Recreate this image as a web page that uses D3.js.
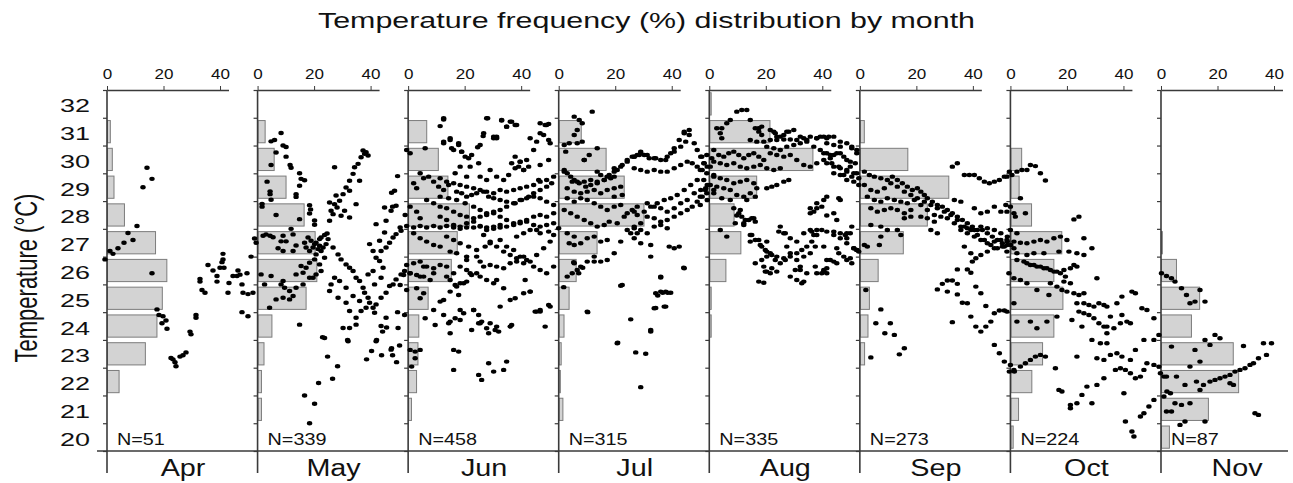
<!DOCTYPE html>
<html><head><meta charset="utf-8">
<script src="https://cdn.jsdelivr.net/npm/d3@7"></script>
<style>body{margin:0;background:#fff}</style>
</head><body><svg id="c" width="1293" height="483"></svg>
<script>
const months = ["Apr","May","Jun","Jul","Aug","Sep","Oct","Nov"];
const counts = [51,339,458,315,335,273,224,87];
const bins = [20,21,22,23,24,25,26,27,28,29,30,31,32];
const xTicks = [0,20,40];
const titleText = "Temperature frequency (%) distribution by month";
const yTitle = "Temperature (°C)";

const freqApr = [0,0,4.1,13.4,17.5,19.4,21,17,6,2.3,1.7,1,0];
const freqMay = [0,1.2,1.2,2.1,4.9,17,20.8,20.2,16.3,9.9,5.7,2.5,0];
const freqJun = [0,1,2.8,3.3,3.6,6.9,15.1,17.2,21.5,13.9,10.5,6.4,0];
const freqJul = [0,1.3,0.4,0.7,1.7,3.5,6,13.4,30,23,16.6,7.8,0];
const freqAug = [0,0,0,0,0.5,0.5,5.7,11,8.6,16.6,36.5,21.3,0.5];
const freqSep = [0,0,0,1.5,2.7,3.2,6.3,15.2,23.7,31.3,16.8,1.4,0];
const freqOct = [0.8,2.7,7.4,11.2,15.2,18.4,15.2,18,7.3,2.9,3.8,0,0];
const freqNov = [2.8,16.6,27.3,25.4,10.6,13.5,5.3,0.3,0,0,0,0,0];

// [day within month, temperature]
const dotsApr = [[-0.4,26.4],[0.6,26.7],[1.2,26.6],[2.2,26.8],[3.4,27.0],[4.2,27.35],[5.2,27.1],[6,27.6],[7.2,29.0],[8,29.7],[9,29.3],[9,25.9],
[10,24.6],[10.4,24.4],[11.2,24.35],[11,24.1],[11.8,24.2],[12,23.9],[12.8,22.85],[13.2,22.8],[13.6,22.7],[13.8,22.55],[14.6,22.9],[15.2,22.95],[15.8,23.05],
[16.6,23.8],[16.8,23.7],[17.8,24.4],[17.8,24.3],[18.6,25.7],[18.6,25.6],[19,25.3],[19.6,25.2],
[20.2,26.2],[21.2,26.0],[22,25.8],[22.6,26.1],[23,26.3],[22,25.6],[23.4,26.1],[23.2,26.6],[23.2,26.4],
[24.4,25.55],[24.2,25.2],[25.2,25.8],[26.2,26.0],[26,25.8],[27,25.5],[26.6,25.85],[28,25.9],[27.2,25.2],[28.2,25.15],[29.2,25.2],[27,24.5],[28.2,24.35]];
const dotsMay = [[4.7,30.95],[3.4,30.7],[2.7,30.65],[5.1,30.5],[5.7,30.45],[3.7,30.25],[5.7,30.1],[6.5,29.8],[6.7,29.7],[2.7,29.8],[1.9,29.2],[8.4,29.5],[8.7,29.3],[9.4,29.25],[8.4,29.05],[7.7,28.75],[7.7,28.65],[2.5,28.75],[2.5,28.85],[2.7,28.55],[0.9,28.4],[0.9,28.3],[3.7,28.0],[8.4,27.85],[10.4,28.35],[10.6,28.2],[10.4,28.05],[11.4,27.8],[11.4,27.65],[6.7,27.5],[7.1,27.3],[1.1,27.25],[1.7,27.3],[2.5,27.25],[3.1,27.2],[5.1,27.25],[4.7,27.05],[5.7,27.05],[4.1,26.8],[5.1,26.7],[7.1,26.7],[7.7,26.9],[-0.3,27.0],[-0.6,27.15],[-1.3,26.5],
[10.1,27.19],[10.7,27.07],[11.4,26.95],[11.7,27.0],[12.4,27.13],[12.7,27.19],[13.4,27.28],[13.9,27.33],[12.4,26.89],[13.1,26.83],[12.1,26.77],[12.7,26.7],[13.7,26.95],[14.1,27.13],[11.1,26.83],[10.4,26.7],[9.4,27.0],[9.7,26.83],[11.7,26.58],[13.4,26.46],[11.4,26.4],[10.4,26.28],[12.4,26.22],[9.7,26.1],[8.7,26.16],[9.1,25.92],[7.7,25.86],[12.7,25.98],[11.7,25.86],[11.1,25.74],[10.4,25.74],[9.1,25.5],[7.7,25.38],[6.4,25.26],[5.4,25.38],[4.7,25.5],[5.1,25.62],[7.1,25.08],[6.4,24.96],[5.1,25.02],[3.7,24.96],[2.4,24.66],[1.4,25.5],[2.7,25.8],[0.7,25.86],
[14.4,27.79],[15.1,28.03],[15.9,28.27],[16.4,28.51],[17.1,28.75],[17.7,28.99],[18.4,29.23],[19.1,29.48],[19.4,29.72],[20.1,29.84],[20.7,30.08],[21.4,30.2],[21.7,30.26],[21.1,30.32],[22.1,30.14],[15.4,28.39],[14.7,28.15],[16.7,27.97],[17.4,28.15],[18.4,27.91],[19.7,28.39],[20.4,29.23],[15.4,29.72],[14.4,28.45],[15.7,28.7],[18.4,28.87],
[15.1,26.83],[16.1,26.58],[16.7,26.4],[17.7,26.22],[18.4,26.1],[19.1,25.98],[19.7,25.74],[20.4,25.62],[21.1,25.38],[21.4,25.2],[22.1,25.02],[22.4,24.84],[23.1,24.66],[21.7,24.66],[20.4,24.9],[19.1,25.08],[17.7,25.38],[16.4,25.62],[15.4,25.74],[14.7,25.5],[14.4,25.26],[16.1,25.02],[17.7,24.84],[18.4,24.54],[19.7,24.3],[20.7,24.54],[23.4,24.48],[23.7,24.78],[24.7,25.02],[25.7,25.2],[26.4,25.44],[27.1,25.5],[27.7,25.68],[28.7,25.86],[29.4,25.98],[25.1,26.1],[24.4,26.34],[23.7,26.46],[24.7,26.7],[25.7,26.83],[26.4,27.0],[27.1,27.19],[27.7,27.31],[28.7,27.43],[23.1,26.7],[22.4,26.95],[24.4,27.07],[25.4,27.37],[23.7,27.67],[25.7,27.79],[26.7,28.15],[27.7,28.33],[27.4,28.87],[25.4,28.27],[23.1,25.98],[22.1,25.86],[24.7,25.74],[23.4,25.5],[26.8,28.8],[28,29.4],[27,28.3],
[18.4,23.93],[19.7,24.05],[17.1,23.93],[25.7,24.3],[24.7,24.0],[28.1,23.93],[8.4,24.05],[13.4,23.57],[18.1,23.45],[23.7,23.45],[26.7,23.15],
[13,23.6],[14,22.9],[16,22.55],[15,22.1],[12.2,21.95],[9.4,21.5],[11.4,21.2],[10.4,20.5],[18,23.5],[21.8,22.8],[23.8,23.5],[22.8,23.1],[24.8,22.95],[26.8,23.2],[27,22.95],[27.8,22.7],[28.4,23.3],[25.8,23.95],[25,23.8],[28,24.5],[29.4,24.4]];
const dotsJun = [[7.1,31.44],[6.4,31.2],[15.9,31.48],[18.7,31.4],[19.7,31.18],[20.7,31.36],[21.7,31.24],[27.4,31.24],[28.1,31.28],[15.0,30.84],[17.1,30.76],[17.7,30.82],[7.1,30.64],[8.4,30.76],[8.7,30.4],[9.1,30.34],[10.1,30.52],[10.7,30.28],[11.4,30.1],[13.9,30.44],[3.4,30.4],[0.4,30.22],[-0.3,30.34],[24.4,30.76],[25.7,30.64],[26.4,30.94],[25.1,30.34],[28.1,30.7],
[21.4,30.1],[22.4,29.92],[22.1,29.74],[23.1,29.62],[24.1,29.74],[23.7,29.98],[12.1,30.04],[12.4,29.74],[14.1,29.86],[10.4,29.74],[9.4,29.5],[11.7,29.38],[16.4,29.62],[17.7,29.38],[19.1,29.26],[20.1,29.44],[14.4,29.38],[15.7,29.26],
[2.4,29.5],[3.1,29.32],[4.1,29.38],[5.1,29.2],[6.1,29.02],[7.1,28.9],[8.1,29.08],[1.1,29.14],[1.7,28.96],
[9.7,28.84],[10.7,28.78],[11.7,28.66],[12.7,28.72],[13.7,28.78],[15.1,28.84],[16.1,28.66],[17.1,28.6],[18.4,28.54],[19.7,28.48],[21.4,28.42],[22.7,28.54],[24.1,28.66],[25.1,28.78],[26.4,28.9],[27.7,29.02],[28.7,29.14],[26.1,29.26],
[3.7,28.54],[5.1,28.42],[6.4,28.3],[7.7,28.24],[9.1,28.12],[10.4,28.0],[11.7,27.94],[13.1,27.88],[14.4,27.94],[15.7,28.0],[0.4,28.3],[1.7,28.12],[-0.6,28.0],[2.4,27.88],
[17.1,28.06],[18.4,27.94],[19.7,27.82],[21.1,27.7],[22.4,27.76],[23.7,27.82],[25.1,27.94],[26.4,28.0],[27.7,27.94],[29.1,28.06],
[-1.6,27.55],[-0.3,27.6],[1.1,27.55],[2.4,27.6],[3.7,27.55],[5.1,27.6],[6.4,27.55],[7.7,27.6],[9.1,27.55],[10.4,27.5],[11.7,27.55],[13.1,27.55],[14.4,27.6],[15.7,27.55],[17.1,27.5],[18.4,27.55],
[1.1,27.34],[2.4,27.16],[3.7,27.04],[5.1,26.92],[6.4,26.86],[8.4,26.68],[9.7,26.62],[11.7,26.5],[13.7,26.5],
[15.1,27.28],[16.4,27.04],[17.7,26.86],[19.1,26.68],[20.4,26.56],[21.7,26.44],[23.1,26.5],[24.4,26.32],[25.7,26.56],[27.1,26.8],[28.4,27.04],[26.4,27.34],[28.1,27.4],[29.1,27.28],
[10.4,26.14],[11.7,26.02],[9.1,25.9],[7.7,25.78],[5.1,25.9],[3.1,26.14],[2.4,25.78],[0.4,25.9],
[-0.3,26.2],[1.1,26.26],[2.4,26.32],[3.7,26.14],[5.1,26.08],[6.4,26.2],[7.7,26.14],[-0.9,25.84],[0.4,25.9],[1.7,25.84],[3.1,25.78],[4.4,25.66],[-1.6,25.48],[-0.3,25.3],[1.7,25.36],[3.1,25.18],[2.4,25.0],
[8.4,25.66],[9.4,25.48],[10.4,25.54],[11.7,25.6],[12.7,25.84],[13.7,25.9],[15.1,26.14],[16.4,26.2],[17.7,26.14],[19.1,26.08],[20.4,26.26],[21.7,26.32],[23.1,26.26],[11.7,26.38],[14.4,26.32],
[17.7,25.66],[19.1,25.36],[17.1,25.54],[21.4,25.0],[23.4,25.66],[24.4,25.24],[25.4,24.52],[26.4,24.52],[28.1,24.76],[27.4,23.98],
[10.1,25.12],[6.4,24.88],[5.1,24.58],[3.4,24.28],[5.4,24.04],[7.1,24.4],[8.4,24.16],[9.4,24.28],[10.4,24.22],[11.1,24.46],[13.1,24.58],[14.1,24.4],[14.7,24.16],[14.1,24.1],[16.4,24.1],[17.7,23.98],[18.1,23.8],[16.1,23.74],[12.7,23.86],[8.4,23.74],[20.7,24.04],
[0.4,23.14],[1.4,23.08],[2.4,23.14],[1.4,22.84],[0.7,22.54],[9.1,23.14],[10.1,23.08],[9.1,22.42],[16.1,22.66],[17.1,22.36],[19.1,22.42],[19.7,22.72],[14.1,22.24],[14.7,22.06],
[7.1,31.48],[15.7,31.48],[18.7,31.42],[20.4,31.36],[21.4,31.24],[19.7,31.18],[7.1,30.58],[8.4,30.7],[10.1,30.58],[10.7,30.28],[12.7,30.16],[14.4,30.52],[17.1,30.82],[17.7,30.76],[15.1,30.94],[20.7,29.86],[22.4,29.92],[21.4,29.68],[23.1,29.62],[26.4,29.8],[28.1,29.98],[28.4,30.58],[27.1,30.88],[26.4,31.3],[27.7,31.24],
[6.4,29.32],[7.7,29.2],[9.1,29.14],[10.4,29.08],[11.7,29.02],[13.1,28.96],[14.4,28.9],[15.7,28.84],[17.1,28.78],[18.4,28.9],[19.7,28.84],[21.1,28.9],[22.4,28.96],[23.7,29.02],[25.1,29.08],[26.4,29.2],[27.7,29.26],[29.1,29.38],
[6.4,28.66],[8.1,28.6],[9.7,28.54],[11.4,28.42],[13.1,28.3],[14.4,28.18],[15.7,28.06],[17.1,28.12],[18.4,28.18],[19.7,28.3],[21.1,28.42],[22.4,28.54],[23.7,28.6],[25.1,28.66],[26.4,28.6],[27.7,28.48],[29.1,28.36],
[6.4,27.94],[7.7,27.82],[9.1,27.64],[10.4,27.58],[11.7,27.7],[13.1,27.76],[14.4,27.58],[15.7,27.46],[17.1,27.58],[18.4,27.64],[19.7,27.58],[21.1,27.64],[22.4,27.7],[23.7,27.76],[25.1,27.64],[26.4,27.58],[27.7,27.64],[29.1,27.7],[30.1,27.52],
[7.7,27.22],[9.1,27.1],[10.4,26.98],[12.1,26.86],[13.7,26.74],[15.4,26.86],[16.4,26.98],[18.4,27.1],[19.7,26.86],[21.1,26.74],[22.4,26.5],[23.7,26.38],[25.1,26.14],[26.4,26.02],[27.7,25.9],[29.1,26.14],[21.7,27.22],[23.1,27.34],[24.4,27.46],[25.7,27.46],
[12.4,25.9],[14.4,25.78],[15.7,25.66],[11.1,25.54],[9.7,25.42],[8.4,25.24],[7.1,24.94],[8.1,24.1],[10.4,24.58],[13.1,24.58],[14.4,24.1],[15.7,23.92],[17.4,23.86],[18.4,24.7],[20.4,24.94],[23.1,25.18],[24.4,25.24],[26.4,24.58],[25.7,24.52],[28.4,24.7],[20.4,23.98]];
const dotsJul = [[6.7,31.72],[3.1,31.54],[4.1,31.42],[4.7,31.3],[3.7,31.06],[3.1,30.88],[2.1,30.58],[1.1,30.52],[7.7,30.4],[6.1,30.16],[5.1,29.98],
[1.1,29.62],[1.7,29.5],[2.4,29.38],[3.1,29.26],[4.1,29.14],[5.4,29.02],[6.4,29.08],[7.7,29.14],[9.1,29.26],[10.1,29.44],[11.1,29.56],[12.4,29.74],[13.7,29.92],[15.1,30.1],[16.4,30.28],[17.7,30.16],[19.1,30.04],[20.4,29.98],[21.7,30.1],[23.1,30.28],[24.4,30.46],[25.4,30.64],[26.1,30.88],[25.1,31.0],
[4.7,30.64],[3.7,30.58],[1.4,30.28],[5.1,29.98],
[11.1,29.68],[11.7,29.62],[12.7,29.8],[13.7,29.98],[14.7,30.1],[15.7,30.16],[16.4,30.22],
[1.1,29.56],[2.7,29.2],[3.7,29.2],[5.1,29.2],[6.4,29.26],[7.7,29.2],[9.1,29.26],[10.4,29.32],[11.1,29.38],[7.7,29.56],[8.4,29.44],[9.7,29.38],
[1.7,28.96],[3.1,28.84],[4.4,28.78],[5.7,28.84],[7.1,28.9],[8.4,28.78],[9.7,28.9],[11.1,28.96],[12.4,29.02],[1.7,28.6],[3.1,28.48],[4.4,28.6],[5.7,28.54],[7.1,28.42],[8.4,28.3],[9.7,28.18],[11.1,28.3],[12.4,28.36],[11.1,28.66],[12.7,28.72],
[1.1,28.18],[2.4,28.06],[3.7,27.94],[5.1,27.82],[6.4,27.7],[7.7,27.58],[9.1,27.64],[10.1,27.76],[11.7,27.7],[13.1,27.94],[13.7,28.06],[15.1,28.12],
[1.7,27.34],[3.1,27.22],[2.1,26.98],[3.1,26.92],[4.4,26.98],[5.7,27.16],[7.1,27.22],[8.4,27.04],[9.7,27.1],[12.4,27.04],[15.1,27.16],[15.7,27.34],[13.7,27.46],
[3.1,26.26],[4.4,26.14],[5.7,26.32],[7.1,26.32],[8.4,26.32],[9.7,26.38],[11.1,26.62],[7.1,26.5],[2.7,25.9],[3.7,26.02],[1.7,25.78],
[12.7,25.48],[5.7,24.52],[14.4,24.24],[11.7,23.38],
[12.4,25.45],[20.4,25.75],[19.8,25.1],[20.8,25.2],[21.8,25.2],[22.4,25.2],[19.4,24.65],[21.4,24.7],[18.4,23.8],[11.8,23.4],[15.4,23.05],[17.4,23.0],[16.4,21.8],[25,26.1],[5.8,24.5],[1,25.4],[3,26.3],[4,25.9],[4.8,26.1],
[26.1,31.06],[25.1,30.94],[24.1,30.7],[23.1,30.4],[22.4,30.22],[21.4,29.98],[19.4,30.04],[18.1,30.04],[17.1,30.16],[16.1,30.16],[15.1,30.1],
[27.1,30.58],[27.7,30.34],[28.4,30.1],[29.1,29.86],[29.7,29.74],[28.7,29.62],[27.7,29.74],[26.7,29.86],[25.7,29.92],[24.4,29.8],[23.1,29.68],[21.7,29.56],[20.4,29.56],[19.1,29.62],[17.7,29.56],[16.4,29.62],[15.1,29.68],
[27.7,29.26],[26.4,29.08],[25.1,28.9],[23.7,28.72],[22.4,28.6],[21.1,28.54],[19.7,28.42],[18.4,28.3],[17.1,28.12],[15.7,28.0],
[29.4,28.96],[28.7,28.66],[27.7,28.48],[26.7,28.3],[25.7,28.18],[24.4,28.06],[23.1,27.94],[21.7,27.82],[20.4,27.76],[19.1,27.88],[17.7,27.94],[29.7,28.54],
[15.7,28.3],[14.7,28.18],[16.4,27.7],[15.1,27.52],[14.4,27.34],
[22.1,26.86],[23.1,26.8],[24.1,26.86],[25.1,26.08],[20.4,25.78],[19.4,25.18],[20.4,25.24],[21.4,25.24],[19.1,24.64],[21.1,24.7],[18.4,23.86],[16.4,26.98],[18.4,26.92],
[17.7,28.42],[19.1,28.3],[20.4,28.24],[21.7,28.12],[23.1,28.24],[24.4,28.42],[25.7,28.54],[27.1,28.78],[28.4,28.9],[29.7,29.08],
[15.1,27.58],[16.4,27.46],[17.7,27.34],[19.1,27.58],[20.4,27.64],[21.7,27.52],[18.4,26.5]];
const dotsAug = [[5.5,31.72],[6.5,31.78],[7.5,31.78],[3.5,31.3],[2.5,31.12],[1.5,31.12],[4.2,31.42],[8.2,31.42],[9.2,31.12],[9.9,31.0],[10.5,31.18],[12.9,31.0],[13.5,30.82],[14.9,30.88],[15.9,31.0],[16.9,31.06],[2.2,30.94],[2.5,30.76],
[8.2,30.7],[9.5,30.64],[10.9,30.64],[12.2,30.7],[13.5,30.7],[14.9,30.72],[16.2,30.72],[17.5,30.7],[18.9,30.76],[20.2,30.82],[21.5,30.76],[22.9,30.82],
[11.5,30.46],[12.9,30.4],[14.2,30.34],[15.5,30.46],[16.9,30.52],[18.2,30.58],[19.5,30.64],[20.9,30.46],[22.2,30.34],[23.5,30.22],[12.2,30.22],[13.5,30.16],[14.9,30.1],[16.2,30.16],[17.5,29.98],[18.9,29.8],[20.2,29.74],[21.5,29.86],[22.9,29.98],[24.2,30.04],
[0.9,30.34],[1.9,30.16],[2.9,30.1],[3.9,30.22],[4.9,30.28],[5.9,30.16],[6.9,30.04],[7.9,30.16],[8.9,30.22],[9.9,30.1],[10.9,29.98],[0.9,29.92],[2.2,29.86],[3.5,29.8],[4.9,29.86],[6.2,29.74],[7.5,29.68],[8.9,29.74],[10.2,29.8],[11.5,29.68],[12.9,29.62],[14.2,29.68],
[0.9,29.44],[2.2,29.32],[3.5,29.26],[4.9,29.14],[6.2,29.2],[7.5,29.26],[8.9,29.14],[9.5,28.96],[8.2,28.78],[6.9,28.66],[5.5,28.72],[4.2,28.9],[2.9,28.96],[1.5,29.02],[0.9,28.78],[2.5,28.6],[4.2,28.54],[7.5,28.54],[9.2,28.66],
[11.5,28.96],[12.5,29.02],[13.5,29.08],[14.9,29.2],[15.9,29.26],
[6.2,28.18],[5.5,27.98],[7.2,27.82],[8.5,27.88],[9.2,27.76],[6.9,27.7],[2.2,27.46],
[8.2,27.28],[9.2,27.1],[10.2,26.92],[11.2,26.74],[12.2,26.62],[13.5,26.5],[14.9,26.44],[15.5,26.86],[14.9,27.34],[13.9,27.4],[16.2,26.62],[17.5,26.38],[18.9,26.5],[20.2,26.62],[21.2,26.86],[20.9,27.28],[20.5,27.4],[21.5,27.46],
[20.2,28.06],[21.5,28.24],[22.5,28.3],[23.5,27.98],
[9.2,26.26],[10.5,26.38],[11.5,26.5],[11.2,25.96],[12.2,25.9],[13.5,25.96],[16.2,25.78],[17.2,26.02],[18.2,26.14],[17.5,25.66],[18.9,25.6],[21.5,25.9],[22.9,26.02],[22.5,25.9],[23.5,26.08],[9.9,25.6],[10.9,25.56],[18.5,25.54],
[4.9,28.24],[5.9,28.06],[6.5,27.94],[5.2,27.7],[6.9,27.64],[7.9,27.82],[8.9,27.88],
[3.5,27.22],[8.2,27.04],[8.5,27.28],[9.9,27.1],[10.5,26.86],[11.5,26.68],[12.5,26.56],[13.2,26.38],[14.2,26.26],[15.2,26.38],[16.2,26.5],[17.5,26.62],[18.5,26.74],[19.5,26.86],[20.5,27.04],[21.5,27.28],[22.5,27.46],[23.5,27.4],[24.9,27.28],[26.2,27.16],[27.5,26.98],[28.9,26.8],[29.9,26.68],
[10.9,26.14],[11.5,25.96],[12.5,26.08],[11.5,27.04],[14.2,27.58],[15.2,27.34],[16.2,27.16],[17.5,27.04],[18.9,27.34],[20.2,27.46],
[18.2,26.02],[19.5,25.9],[21.2,26.14],[22.9,25.96],[23.5,26.38],[24.9,26.32],[25.9,26.62],[27.5,26.38],[28.5,26.26],[29.5,26.74],[27.5,27.34],[28.5,27.58],[25.9,28.6],[23.5,28.66],[21.5,28.42],[20.2,28.24],[20.9,28.12],
[22.2,30.82],[23.9,30.82],[23.5,30.58],[24.9,30.52],[26.2,30.46],[27.5,30.58],[28.5,30.4],[29.5,30.22],[26.2,30.22],[24.9,30.16],[27.5,29.98],[28.2,29.74],[29.5,29.5],[27.5,29.62],[25.9,29.74],[24.5,29.86],[26.9,29.44],[28.5,29.38],[29.9,29.32],
[9.9,31.12],[10.5,30.88],[12.2,31.06],[13.2,30.94],[14.2,30.82],[15.5,31.0],[18.2,30.82],[19.5,30.7],[21.5,30.76],
[-1.5,30.1],[-0.5,30.16],[0.5,30.04],[-1.1,29.86],[0.2,29.74],[-1.8,29.62],[-0.5,29.5],[0.9,29.38],[-1.1,29.26],[0.2,29.08],[-0.8,28.9],[-1.8,28.66],[-0.5,28.78],[0.9,28.9],[-1.8,28.36],
[23.5,30.76],[24.9,30.82],[26.2,30.64],[28.5,30.46],[29.5,30.34],[22.9,30.22],[24.2,30.16],[25.5,30.22],[26.9,30.1],[28.2,29.92],[29.2,29.86],[23.5,29.86],[24.9,29.74],[26.2,29.68],[27.5,29.56],[28.9,29.5],[24.9,29.5],[26.2,29.44],[27.5,29.26],[28.9,29.2],[29.9,29.08],
[22.9,28.54],[26.2,28.54],[24.9,28.06],[25.5,27.82],[24.9,27.4],[26.2,27.34],[27.2,27.28],[28.2,27.34],[27.5,27.16],[22.9,26.86],[25.5,26.8],[26.9,26.5],[28.2,26.44],[24.2,26.38],[25.5,26.26],[22.9,25.96],[23.5,25.9],[28.9,26.8],[29.5,26.74]];
const dotsSep = [[0.9,29.56],[1.9,29.44],[2.9,29.38],[4.2,29.32],[5.5,29.26],[6.5,29.38],[7.5,29.26],[8.5,29.14],[9.5,29.02],[10.5,28.9],[11.5,28.96],[12.2,28.84],[12.9,28.72],[13.5,28.6],[14.5,28.48],[15.5,28.36],[16.5,28.3],[17.5,28.18],[18.5,28.06],[19.5,27.94],[20.5,27.82],[21.5,27.7],[22.5,27.58],[23.5,27.46],[24.5,27.46],[25.5,27.34],[26.5,27.22],[27.5,27.1],[28.5,26.98],[29.5,26.92],
[0.9,29.08],[2.2,28.9],[3.5,28.84],[4.9,28.96],[6.2,29.14],[7.5,29.02],[8.9,28.84],[10.2,28.72],[11.5,28.6],[12.9,28.48],[14.2,28.36],[15.5,28.24],[16.9,28.12],[18.2,28.0],[19.5,27.82],[20.9,27.58],[22.2,27.46],[23.5,27.28],[24.9,27.1],[26.2,26.92],[27.5,26.8],[28.9,26.86],[30.2,26.92],
[1.5,28.66],[2.9,28.54],[4.2,28.48],[5.5,28.6],[6.9,28.54],[8.2,28.48],[9.5,28.42],[10.9,28.54],[12.2,28.36],[13.5,28.18],[14.9,28.0],[16.2,27.94],[17.5,27.88],[18.9,27.7],[20.2,27.58],[21.5,27.52],[22.9,27.46],[24.2,27.58],[25.5,27.52],[26.9,27.46],[28.2,27.34],[29.5,27.22],
[2.2,28.24],[3.5,28.12],[4.9,28.18],[6.2,28.24],[7.5,28.18],[8.9,28.06],[10.2,27.94],[2.2,27.64],[4.2,27.58],[5.5,27.46],[7.5,27.46],[8.9,27.88],[10.2,28.18],[12.2,27.94],[13.5,27.88],[14.9,27.76],[14.2,27.46],[15.5,27.34],
[4.2,27.22],[8.2,27.28],[3.9,26.92],[1.5,26.86],[0.9,26.92],
[18.5,29.74],[19.5,29.86],[20.9,29.44],[21.9,29.44],[22.9,29.44],[23.9,29.32],[24.9,29.2],[25.9,29.14],[26.9,29.2],[27.9,29.26],[28.9,29.38],[29.9,29.56],
[18.9,28.54],[20.2,28.48],[22.9,28.24],[24.2,28.06],[25.5,28.12],[26.9,28.3],[28.2,28.12],[29.2,28.36],
[20.2,27.46],[21.5,27.34],[22.9,27.22],[24.2,27.1],[25.5,26.98],[26.9,27.04],[28.2,27.1],[29.5,27.04],
[20.9,26.86],[22.2,26.62],[23.2,26.44],[24.2,26.56],[25.5,26.68],[26.9,26.8],[28.5,26.86],
[15.5,25.32],[16.5,25.52],[17.5,25.64],[18.5,25.64],[19.5,25.52],[17.5,25.24],[19.5,25.14],[20.5,24.84],[21.5,24.82],[18.5,24.14],[22.2,24.34],[23.2,23.98],[24.2,23.8],[25.2,23.98],[26.2,24.16],[26.9,24.46],[27.9,24.56],[28.9,24.56],[25.2,24.72],[23.2,25.42],[24.2,25.18],[19.5,26.04],[21.5,26.04],[22.2,25.92],[22.5,26.32],
[26.9,23.32],[27.9,23.02],[28.9,22.72],[29.9,22.36],[30.9,22.36],
[1.2,25.3],[4.2,24.6],[3.2,24.1],[6.1,24.1],[5,23.74],[6.9,23.68],[2.2,22.87],[8.9,23.2],[7.9,22.98]];
const dotsOct = [[-0.7,29.38],[0.3,29.44],[1.3,29.56],[2.3,29.62],[3.3,29.62],[4,29.8],[5,29.76],[6,29.5],[7,29.24],
[2,28.6],[0,28.3],[-0.7,28.12],[0.7,28.06],[3,28.06],[1,27.94],[12.7,27.84],[13.7,27.94],
[0,27.46],[1.3,27.34],[-0.7,27.1],[0.7,27.04],[2,27.0],[3.3,26.98],[4.7,27.04],[6,27.1],[7.3,27.04],[8.7,27.16],[10,27.22],[11.3,27.1],[14.7,27.16],[16.3,26.8],[0.7,26.8],[-0.7,26.68],[1.3,26.62],[3.3,26.56],[4.7,26.62],[6.7,26.62],[9.7,26.68],[11.7,26.68],[13.3,26.62],[14.7,26.56],
[1.3,26.38],[2.7,26.32],[4,26.2],[5.3,26.14],[6.7,26.08],[8,26.02],[9.3,25.96],[10.7,26.02],[12,26.08],[12.7,26.2],[17.3,25.72],
[3.3,26.26],[4.7,26.2],[6,26.14],[7.3,26.08],[8.7,25.96],[10,25.9],[11,25.78],[13.3,26.14],[10.7,25.6],[12,25.54],[8,25.54],[9.3,25.42],[10.3,25.3],[11.3,25.24],[12.7,25.18],[13.7,25.12],[14.7,25.18],
[-0.3,25.9],[0.7,25.72],[2,25.66],[3.3,25.54],[5.3,25.3],[7.7,25.12],[0.7,24.82],[-0.7,24.52],[1.3,24.16],[4,24.16],[5.3,23.92],[7.3,24.16],[9.3,24.34],[12.3,24.22],[14.3,23.98],
[13.3,24.82],[14.7,24.82],[15.7,24.76],[16.7,24.7],[17.7,24.82],[18.7,24.76],[19.3,24.7],[13.7,24.52],[14.7,24.46],[15.7,24.4],[16.7,24.28],[17.7,24.1],[18.7,23.98],[19.3,23.74],[19.3,23.38],[18,23.38],[16.3,23.5],
[20,24.34],[21.3,24.82],[22.3,25.06],[24.3,25.24],[25,25.18],[26.3,24.64],[27.3,24.58],[28.7,24.28],[29.7,23.68],[28.7,23.5],[26.7,23.5],[25,23.14],[24,22.78],[22.3,22.9],[21.3,23.02],[20,22.96],[18.7,22.78],[17.3,22.84],[21,22.42],[22,22.48],[23,22.42],[24,22.3],[25,22.12],[26,22.18],[26.7,22.42],[27.3,22.66],[28.7,22.6],[29.7,22.54],[30,22.3],[30.7,22.18],[31.3,21.64],[32,21.58],[30.7,21.46],[28.7,21.34],[27.7,21.1],[26.7,20.86],[26,20.74],[22.7,21.58],[18.7,22.12],[17.3,21.88],[15.3,21.82],[14.3,21.52],[12,21.16],[13.3,21.22],[9.7,21.7],[10.3,21.64],[9,22.48],[7,22.9],[6,22.96],[5,22.9],[4,22.78],[3,22.66],[2,22.54],[0.7,22.42],[0,22.6],[13.3,22.9],[16.3,21.22],[12,21.04],[23,20.56],[24.3,20.2],[24.7,20.02],[22.3,24.4],[23.3,24.16],[24,24.1],[22,24.1],[20.7,23.92],[19.3,23.98]];
const dotsNov = [[0.1,25.9],[1.1,25.8],[2.1,25.72],[2.8,25.6],[4.1,25.36],[5.1,25.12],[5.8,24.82],[6.8,24.88],[7.8,25.3],[8.8,24.88],
[2.1,23.26],[6.8,23.14],[7.8,22.72],[8.8,23.5],[9.8,23.32],[10.8,23.68],[11.8,23.56],[5.8,22.54],[1.1,22.18],[3.1,22.18],[4.8,21.88],[7.1,22.0],[8.5,21.88],[9.8,22.0],[10.8,22.06],[11.8,22.12],[12.8,22.18],[13.8,22.24],[14.8,22.36],[15.8,22.42],[16.8,22.48],[17.8,22.6],[18.5,22.66],[19.5,22.84],[21.1,22.96],[20.5,23.38],[22.1,23.38],[16.5,23.28],[13.8,21.94],[14.5,21.88],[4.1,21.16],[2.8,21.22],[5.8,21.22],[1.1,20.92],[2.1,20.92],[4.8,20.56],[3.8,20.44],[8.8,20.56],[18.8,20.86],[19.5,20.8],[7.8,21.7]];

const freqs = [freqApr,freqMay,freqJun,freqJul,freqAug,freqSep,freqOct,freqNov];
const dots = [dotsApr,dotsMay,dotsJun,dotsJul,dotsAug,dotsSep,dotsOct,dotsNov];

const FONT = "'Liberation Sans', Arial, sans-serif";
const LINE = "#3a3a3a";
const svg = d3.select("#c");

const panel = d3.scaleBand().domain(months).range([107, 107 + 8 * 150.57]);
const y = d3.scaleLinear().domain([19.5, 32.5]).range([451, 90]);
const yBand = d3.scaleBand().domain(bins).range([451, 90]).paddingInner(0.2).paddingOuter(0.1);
const xPct = d3.scaleLinear().domain([0, 43]).range([0, 121.5]);
const xDay = d3.scaleLinear().domain([0, 30.1]).range([0, 150.5]);

// bars
months.forEach((m, i) => {
  const g = svg.append("g").attr("transform", `translate(${panel(m)},0)`);
  g.selectAll("rect")
    .data(bins.map((b, j) => ({ b, v: freqs[i][j] })).filter(d => d.v > 0))
    .join("rect")
    .attr("x", 0.5).attr("y", d => yBand(d.b))
    .attr("width", d => xPct(d.v)).attr("height", yBand.bandwidth())
    .attr("fill", "#d3d3d3").attr("stroke", "#7c7c7c").attr("stroke-width", 1);
});

// axes
months.forEach((m, i) => {
  const g = svg.append("g").attr("transform", `translate(${panel(m)},0)`);
  g.append("line").attr("x1", 0).attr("x2", 0).attr("y1", y(32.5)).attr("y2", 473)
    .attr("stroke", LINE).attr("stroke-width", 1.6);
  const la = g.append("g").call(d3.axisLeft(y).tickValues(d3.range(19.5, 33, 1)).tickSize(4).tickFormat(""));
  la.select(".domain").remove();
  la.selectAll("line").attr("stroke", LINE).attr("stroke-width", 1.2);
  const ta = g.append("g").attr("transform", `translate(0,${y(32.5)})`)
    .call(d3.axisTop(xPct).tickValues(xTicks).tickSize(4).tickSizeOuter(0).tickPadding(7));
  ta.attr("font-family", FONT).attr("font-size", 15.5);
  ta.select(".domain").attr("stroke", LINE).attr("stroke-width", 1.3);
  ta.selectAll(".tick line").attr("stroke", LINE);
  ta.selectAll("text").attr("fill", "#111").attr("transform", "scale(1.1,1)");
  g.append("text").attr("transform", `translate(10,445) scale(1.2,1)`)
    .attr("font-family", FONT).attr("font-size", 16.5).attr("fill", "#111")
    .text("N=" + counts[i]);
  g.append("text").attr("transform", `translate(76,476) scale(1.25,1)`)
    .attr("text-anchor", "middle").attr("font-family", FONT).attr("font-size", 23).attr("fill", "#111")
    .text(m);
});

// y labels
const yl = svg.append("g").attr("transform", `translate(${panel("Apr")},0)`)
  .call(d3.axisLeft(y).tickValues(bins).tickSize(0).tickPadding(17));
yl.select(".domain").remove();
yl.attr("font-family", FONT).attr("font-size", 19);
yl.selectAll("text").attr("x", null).attr("dy", null).attr("fill", "#111")
  .attr("transform", "translate(-17,8) scale(1.42,1)");

// bottom baseline
svg.append("line").attr("x1", 97).attr("x2", 1288).attr("y1", y(19.5)).attr("y2", y(19.5))
  .attr("stroke", LINE).attr("stroke-width", 1.6);

// dots
months.forEach((m, i) => {
  const g = svg.append("g").attr("transform", `translate(${panel(m)},0)`);
  g.selectAll("ellipse").data(dots[i]).join("ellipse")
    .attr("cx", d => xDay(d[0])).attr("cy", d => y(d[1]))
    .attr("rx", 2.7).attr("ry", 2.2).attr("fill", "#000");
});

// titles
svg.append("text").attr("x", 646.5).attr("y", 28)
  .attr("text-anchor", "middle").attr("font-family", FONT).attr("font-size", 21.5).attr("fill", "#111")
  .attr("textLength", 657).attr("lengthAdjust", "spacingAndGlyphs")
  .text(titleText);
svg.append("text").attr("transform", "translate(37,278) scale(1.4,1) rotate(-90)")
  .attr("text-anchor", "middle").attr("font-family", FONT).attr("font-size", 22).attr("fill", "#111")
  .text(yTitle);
</script></body></html>
